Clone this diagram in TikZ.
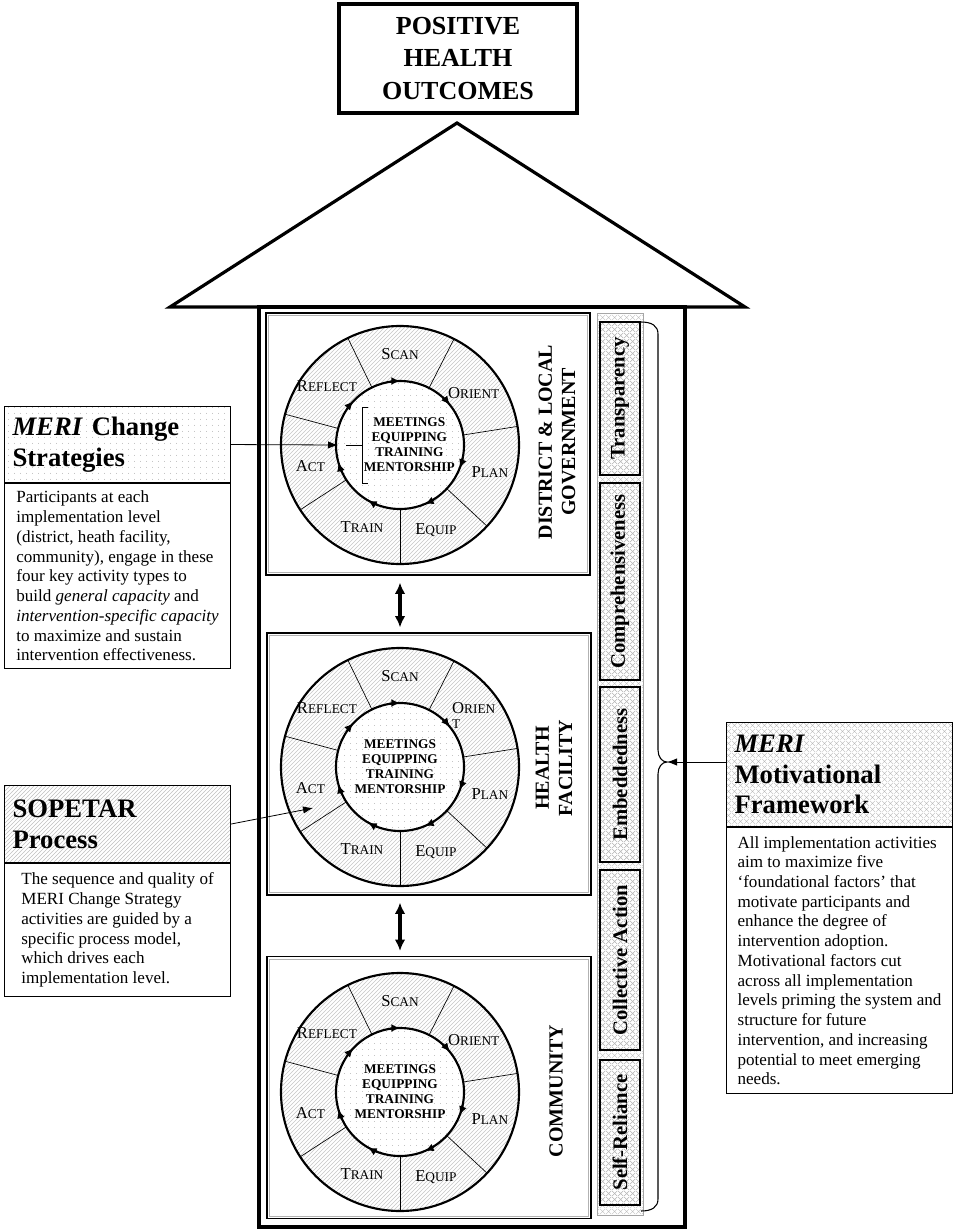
\documentclass[tikz,border=0pt]{standalone}
\usepackage{fontspec}
\setmainfont{Liberation Serif}
\usetikzlibrary{positioning, arrows.meta, calc, patterns, patterns.meta}

\tikzdeclarepattern{
  name=lightdots, type=uncolored,
  bottom left={(0pt,0pt)}, top right={(4.5pt,4.5pt)},
  tile size={(4.5pt,4.5pt)},
  code={\fill (2.25pt,2.25pt) circle[radius=0.35pt];}
}
\tikzdeclarepattern{
  name=lightgrid, type=uncolored,
  bottom left={(0pt,0pt)}, top right={(4.5pt,4.5pt)},
  tile size={(4.5pt,4.5pt)},
  code={\draw[line width=0.3pt] (0pt,0pt) -- (4.5pt,4.5pt) (0pt,4.5pt) -- (4.5pt,0pt);}
}

\tikzset{
  outcomebox/.style={draw, line width=2.5pt, minimum width=178.5pt, minimum height=81.75pt,
    align=center, font=\bfseries\fontsize{19.5}{24.5}\selectfont},
  housebox/.style={draw, line width=2.4pt},
  levelbox/.style={draw, line width=0.9pt, minimum width=243pt, minimum height=196.5pt},
  levellabel/.style={rotate=90, align=center, font=\bfseries\fontsize{15}{17.5}\selectfont},
  ringline/.style={line width=1.6pt},
  stagelabel/.style={align=left, inner sep=0pt, font=\fontsize{12.5}{11}\selectfont},
  hubtext/.style={align=center, inner sep=0pt, font=\bfseries\fontsize{10}{11.25}\selectfont},
  factorbox/.style={draw, line width=1.1pt, rotate=90, minimum height=30pt,
    pattern=lightgrid, pattern color=gray!55, font=\bfseries\fontsize{15.5}{16}\selectfont},
  headbox/.style={draw, line width=0.8pt, anchor=north west, align=left, text width=157.5pt,
    inner xsep=6pt, font=\bfseries\fontsize{20}{23}\selectfont},
  bodybox/.style={draw, line width=0.8pt, anchor=north west, align=left, minimum width=169.5pt,
    inner ysep=2pt, font=\fontsize{12.8}{14.8}\selectfont},
  twoway/.style={line width=2.4pt, {Latex[length=8.5pt,width=8pt]}-{Latex[length=8.5pt,width=8pt]}},
  pointer/.style={line width=0.6pt, -{Latex[length=7.5pt,width=5.5pt]}},
}

\newcommand{\stagecap}[2]{#1{\fontsize{10}{10}\selectfont #2}}

% one SOPETAR wheel: prefix, centre, orient label, hub options
\newcommand{\drawwheel}[4]{%
  \begin{scope}[shift={#2}, yscale=-1]
    \coordinate (#1-c) at (0,0);
    \fill[pattern=north east lines, pattern color=gray!45] (0,0) circle (119);
    \fill[white] (0,0) circle (64);
    \fill[pattern=lightdots, pattern color=gray!80] (0,0) circle (64);
    \foreach \a in {116,63,9,-43,-90,-147,165}
      \draw[line width=0.5pt] (\a:64) -- (\a:119);
    \draw[ringline] (0,0) circle (119) (0,0) circle (64);
    \foreach \a in {90,39,-21,-67,-120,-164,137}
      \draw[ringline, -{Latex[length=6.5pt,width=6pt]}] ({\a+9}:64) arc[start angle=\a+9, end angle=\a, radius=64];
    \node[stagelabel] (#1-scan) at (90:91) {\stagecap{S}{CAN}};
    \node[stagelabel] (#1-orient) at (35:90) {#3};
    \node[stagelabel] (#1-plan) at (-17:94) {\stagecap{P}{LAN}};
    \node[stagelabel] (#1-equip) at (-67:92) {\stagecap{E}{QUIP}};
    \node[stagelabel] (#1-train) at (-115:90) {\stagecap{T}{RAIN}};
    \node[stagelabel] (#1-act) at (-167:92) {\stagecap{A}{CT}};
    \node[stagelabel] (#1-reflect) at (141:94) {\stagecap{R}{EFLECT}};
    \node[hubtext, #4] (#1-hub) at (0,0) {MEETINGS\\EQUIPPING\\TRAINING\\MENTORSHIP};
  \end{scope}}

\begin{document}
\begin{tikzpicture}[x=0.75pt, y=-0.75pt]
  \useasboundingbox (0,0) rectangle (957,1232);

  % Outcome and house
  \node[outcomebox] (outcomes) at (458,58.5) {POSITIVE\\HEALTH\\OUTCOMES};
  \draw[housebox, line join=miter] (170,307) -- (457,123) -- (745,307) -- cycle;
  \draw[housebox] (259,307) rectangle (685,1227);

  % Implementation levels
  \node[levelbox] (district) at (428,444) {};
  \node[levelbox] (health) at (429,764) {};
  \node[levelbox] (community) at (429,1087.5) {};
  \foreach \lvl in {district,health,community}
    \draw[gray!60, line width=0.6pt] ([shift={(3,3)}]\lvl.north west) rectangle ([shift={(-3,-3)}]\lvl.south east);

  \drawwheel{dl}{(400,445)}{\stagecap{O}{RIENT}}{xshift=7pt}
  \drawwheel{hf}{(400,767)}{\stagecap{O}{RIEN}\\{\fontsize{10}{10}\selectfont T}}{}
  \drawwheel{cm}{(400,1092)}{\stagecap{O}{RIENT}}{}

  \draw[line width=0.6pt] (368,407) -- (362,407) -- (362,483) -- (368,483) (362,445) -- (346,445);

  \node[levellabel] (district-lbl) at (557,442) {DISTRICT \& LOCAL\\GOVERNMENT};
  \node[levellabel] (health-lbl) at (554,768) {HEALTH\\FACILITY};
  \node[levellabel] (community-lbl) at (556,1091) {COMMUNITY};

  % Arrows between levels
  \draw[twoway] ($(district.south -| dl-c)+(0,7)$) -- ($(health.north -| dl-c)+(0,-5)$);
  \draw[twoway] ($(health.south -| hf-c)+(0,7)$) -- ($(community.north -| hf-c)+(0,-5)$);

  % Foundational factors
  \draw[gray!70, line width=0.5pt, pattern=lightgrid, pattern color=gray!50] (597,313) rectangle (643,1215);
  \node[factorbox, minimum width=114.75pt] (transparency) at (620,398.5) {Transparency};
  \node[factorbox, minimum width=147.75pt] (comprehensive) at (620,581.5) {Comprehensiveness};
  \node[factorbox, minimum width=131.25pt] (embedded) at (620,774.5) {Embeddedness};
  \node[factorbox, minimum width=135pt] (collective) at (620,960) {Collective Action};
  \node[factorbox, minimum width=108.75pt] (selfreliance) at (620,1132.5) {Self-Reliance};
  \draw[line width=0.8pt] (641,322) .. controls (652,322) and (658,326) .. (658,334) -- (658,750)
    .. controls (658,757) and (662,762) .. (667,762) .. controls (662,762) and (658,767) .. (658,774)
    -- (658,1199) .. controls (658,1207) and (652,1211) .. (641,1211);
  \coordinate (brace-tip) at (667,762);

  % Side boxes
  \node[headbox, pattern=lightdots, pattern color=gray!80, minimum height=57pt] (meri-head) at (4,406)
    {\textit{MERI} Change\\Strategies};
  \node[bodybox, minimum height=138.75pt] (meri-body) at (meri-head.south west)
    {Participants at each\\
     implementation level\\
     (district, heath facility,\\
     community), engage in these\\
     four key activity types to\\
     build \textit{general capacity} and\\
     \textit{intervention-specific capacity}\\
     to maximize and sustain\\
     intervention effectiveness.};

  \node[headbox, pattern=north east lines, pattern color=gray!50, minimum height=57.75pt] (sop-head) at (4,785)
    {SOPETAR\\Process};
  \node[bodybox, minimum height=99.75pt] (sop-body) at (sop-head.south west)
    {The sequence and quality of\\
     MERI Change Strategy\\
     activities are guided by a\\
     specific process model,\\
     which drives each\\
     implementation level.};

  \node[headbox, pattern=lightgrid, pattern color=gray!55, minimum height=78pt] (moti-head) at (726,722)
    {\textit{MERI}\\Motivational\\Framework};
  \node[bodybox, minimum height=199.5pt] (moti-body) at (moti-head.south west)
    {All implementation activities\\
     aim to maximize five\\
     ‘foundational factors’ that\\
     motivate participants and\\
     enhance the degree of\\
     intervention adoption.\\
     Motivational factors cut\\
     across all implementation\\
     levels priming the system and\\
     structure for future\\
     intervention, and increasing\\
     potential to meet emerging\\
     needs.};

  % Pointers
  \coordinate (dl-entry) at (338,445);
  \coordinate (hf-entry) at (313,808);
  \draw[pointer] (meri-head.east) -- (dl-entry);
  \draw[pointer] (sop-head.east) -- (hf-entry);
  \draw[pointer] (moti-head.west |- brace-tip) -- (brace-tip);
\end{tikzpicture}
\end{document}
